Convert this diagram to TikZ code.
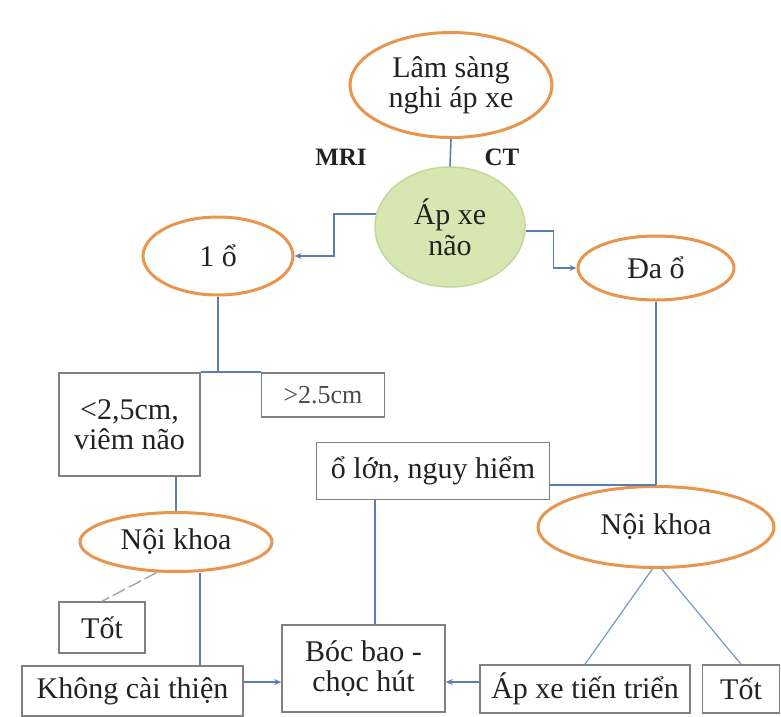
\documentclass[tikz,border=0pt]{standalone}
\usepackage{fontspec}
\setmainfont{Liberation Serif}
\usetikzlibrary{shapes.geometric,arrows.meta}
\definecolor{ovalorange}{HTML}{E8954F}
\definecolor{greenfill}{HTML}{D6E7B2}
\definecolor{greenedge}{HTML}{C3D99B}
\definecolor{linkblue}{HTML}{5A7DB5}
\definecolor{boxgray}{HTML}{808080}
\definecolor{inkdark}{HTML}{222222}
\tikzset{
  oval/.style={ellipse, draw=ovalorange, line width=3pt, fill=white, inner sep=0pt,
    align=center, text=inkdark, font=\fontsize{30}{30}\selectfont},
  greenoval/.style={ellipse, draw=greenedge, line width=1.5pt, fill=greenfill, inner sep=0pt,
    align=center, text=inkdark, font=\fontsize{30}{31}\selectfont},
  textbox/.style={rectangle, draw=boxgray, line width=1.5pt, fill=white, inner sep=0pt,
    align=center, text=inkdark, font=\fontsize{30}{30}\selectfont},
  conn/.style={draw=linkblue, line width=1.6pt},
  tip/.style={-{Stealth[length=7pt,width=6pt]}},
  label/.style={text=inkdark, font=\fontsize{25}{27}\selectfont\bfseries}
}
\begin{document}
\begin{tikzpicture}[x=1pt,y=-1pt]
\useasboundingbox[fill=white] (0,0) rectangle (781,716);

% ovals
\node[oval, minimum width=202pt, minimum height=105pt] (clin) at (451,85) {Lâm sàng\\nghi áp xe};
\node[greenoval, minimum width=150pt, minimum height=120pt] (abs) at (450,227) {Áp xe\\não};
\node[oval, minimum width=150pt, minimum height=78pt] (one) at (218,256) {1 ổ};
\node[oval, minimum width=156pt, minimum height=64pt] (multi) at (656,268) {Đa ổ};
\node[oval, minimum width=236pt, minimum height=81pt] (medR) at (656,527) {Nội khoa};
\node[oval, minimum width=192pt, minimum height=59pt] (medL) at (176,542) {Nội khoa};

% labels on the imaging branch
\node[label] (mri) at (341,157) {MRI};
\node[label] (ct) at (502,157) {CT};

% boxes
\node[textbox, minimum width=141pt, minimum height=103pt] (small) at (129.5,424.5) {<2,5cm,\\viêm não};
\node[textbox, minimum width=123pt, minimum height=44pt, text=black!70, font=\fontsize{26}{28}\selectfont] (big) at (323,395) {>2.5cm};
\node[textbox, minimum width=233pt, minimum height=57pt] (large) at (433,471) {ổ lớn, nguy hiểm};
\node[textbox, minimum width=163pt, minimum height=87pt] (surg) at (363.5,668.5) {Bóc bao -\\chọc hút};
\node[textbox, minimum width=210pt, minimum height=48pt] (prog) at (585,689) {Áp xe tiến triển};
\node[textbox, minimum width=77pt, minimum height=48pt] (goodR) at (741,689) {Tốt};
\node[textbox, minimum width=86pt, minimum height=51pt] (goodL) at (102,627.5) {Tốt};
\node[textbox, minimum width=221pt, minimum height=50pt] (noimp) at (132.5,691) {Không cài thiện};

% connectors
\draw[conn] (clin.south) -- (abs.north);
\draw[conn,tip] (abs.170) -- ++(-42,0) |- (one.east);
\draw[conn,tip] (abs.-3) -- ++(28,0) |- (multi.west);
\draw[conn] (one.south) -- (one.south |- small.north);
\draw[conn] (small.north east) -- (big.north west);
\draw[conn] (multi.south) -- (medR.north);
\draw[conn] (large.east |- medR.north) -- (medR.north);
\draw[conn] ([xshift=11.5pt]surg.north) -- ([xshift=11.5pt]surg.north |- large.south);
\draw[linkblue!80, line width=1.2pt] (medR.-95) -- (prog.north);
\draw[linkblue!80, line width=1.2pt] (medR.-82) -- (goodR.north);
\draw[conn,tip] ([yshift=7pt]prog.west) -- ([yshift=7pt]prog.west -| surg.east);
\draw[conn] (small.south -| medL.north) -- (medL.north);
\draw[gray!70, line width=1.4pt, dash pattern=on 14pt off 4pt] (medL.-122) -- (goodL.north);
\draw[conn] ([xshift=24pt]medL.south) -- ([xshift=24pt]medL.south |- noimp.north);
\draw[conn,tip] ([yshift=9pt]noimp.east) -- ([yshift=9pt]noimp.east -| surg.west);
\end{tikzpicture}
\end{document}
